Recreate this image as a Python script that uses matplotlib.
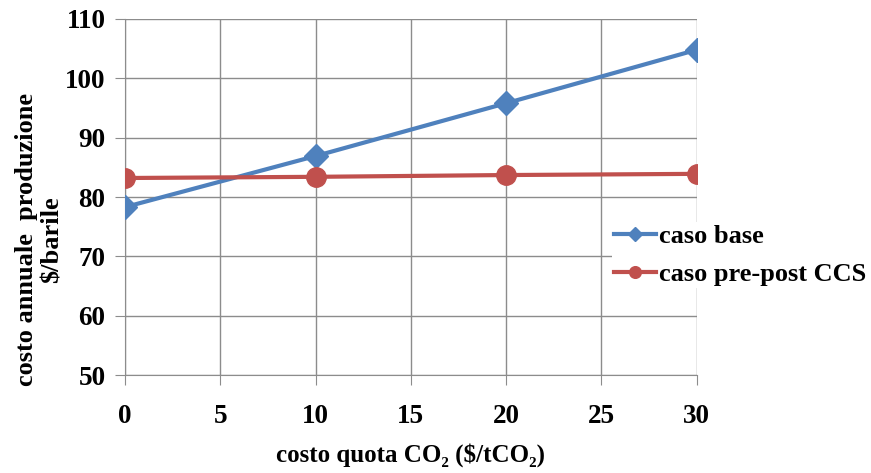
import matplotlib.pyplot as plt

costo_co2 = [0, 10, 20, 30]
caso_base = [78.3, 86.9, 95.8, 104.8]
caso_ccs = [83.2, 83.4, 83.7, 83.9]
x_ticks = [0, 5, 10, 15, 20, 25, 30]
y_ticks = [50, 60, 70, 80, 90, 100, 110]

plt.rcParams['font.family'] = ['Liberation Serif', 'DejaVu Serif']
plt.rcParams['font.weight'] = 'bold'

fig = plt.figure(figsize=(8.71, 4.73), dpi=100)
ax = fig.add_axes([0.1435, 0.207, 0.6565, 0.753])

ax.plot(costo_co2, caso_base, color='#4F81BD', lw=3, marker='D', ms=12,
        label='caso base', zorder=3)
ax.plot(costo_co2, caso_ccs, color='#C0504D', lw=3, marker='o', ms=14,
        label='caso pre-post CCS', zorder=3)

ax.set_xlim(0, 30)
ax.set_ylim(50, 110)
ax.set_xticks(x_ticks)
ax.set_yticks(y_ticks)
ax.grid(True, color='#8C8C8C', lw=1)
ax.set_axisbelow(True)
for s in ['top', 'right']:
    ax.spines[s].set_visible(False)
for s in ['left', 'bottom']:
    ax.spines[s].set_color('#8C8C8C')
ax.tick_params(axis='both', colors='#8C8C8C', length=7, labelcolor='black',
               labelsize=19.5)
ax.tick_params(axis='x', pad=14)
ax.tick_params(axis='y', pad=7)
for lab in ax.get_xticklabels() + ax.get_yticklabels():
    lab.set_fontweight('bold')

ax.set_xlabel('costo quota CO\u2082 ($/tCO\u2082)', fontsize=18, fontweight='bold')
ax.xaxis.set_label_coords(0.5, -0.19)
ax.set_ylabel('costo annuale  produzione\n$/barile', fontsize=19,
              fontweight='bold', linespacing=1.15)
ax.yaxis.set_label_coords(-0.108, 0.38)

leg = ax.legend(loc='center left', bbox_to_anchor=(0.851, 0.337), frameon=True,
                fancybox=False, edgecolor='none', framealpha=1,
                prop={'size': 19, 'weight': 'bold'}, handlelength=1.6,
                handletextpad=0.1, markerscale=0.6, labelspacing=0.55,
                borderpad=0.1, borderaxespad=0)
leg.set_zorder(5)

fig.savefig('out.png', dpi=100)
